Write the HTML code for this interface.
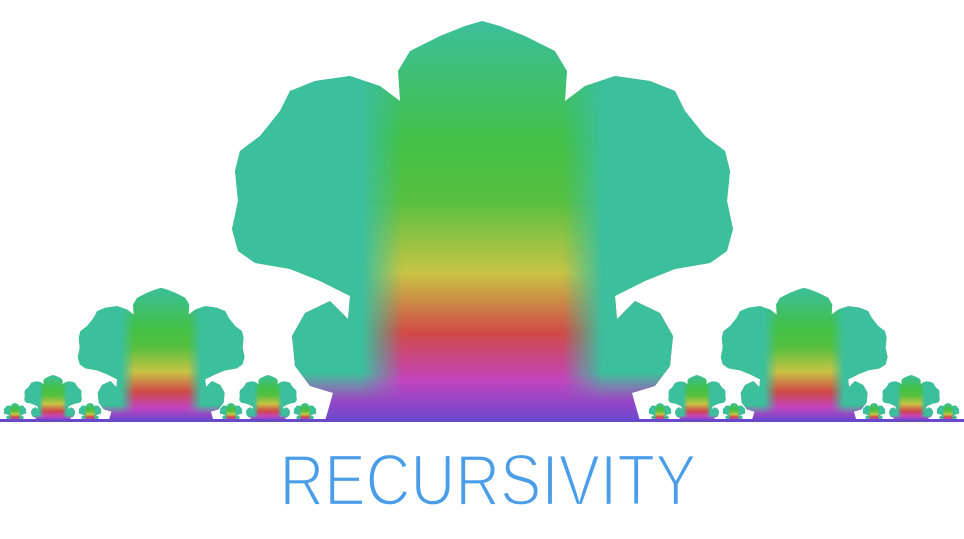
<!DOCTYPE html>
<html><head><meta charset="utf-8"><style>
html,body{margin:0;padding:0;background:#fff;}
svg{display:block;}
</style></head><body>
<svg width="964" height="539" viewBox="0 0 964 539">
<defs>
<linearGradient id="vg" x1="0" y1="0" x2="0" y2="1">
<stop offset="0" stop-color="#3cbf9c"/>
<stop offset="0.3" stop-color="#42c046"/>
<stop offset="0.45" stop-color="#58c040"/>
<stop offset="0.63" stop-color="#c8c444"/>
<stop offset="0.78" stop-color="#d04a48"/>
<stop offset="0.9" stop-color="#c244c0"/>
<stop offset="1" stop-color="#6a48cc"/>
</linearGradient>
<linearGradient id="hg" x1="0" y1="0" x2="1" y2="0">
<stop offset="0" stop-color="#3cbf9c" stop-opacity="1"/>
<stop offset="0.26" stop-color="#3cbf9c" stop-opacity="1"/>
<stop offset="0.34" stop-color="#3cbf9c" stop-opacity="0"/>
<stop offset="0.66" stop-color="#3cbf9c" stop-opacity="0"/>
<stop offset="0.74" stop-color="#3cbf9c" stop-opacity="1"/>
<stop offset="1" stop-color="#3cbf9c" stop-opacity="1"/>
</linearGradient>
<linearGradient id="fadeMask" x1="0" y1="0" x2="0" y2="1">
<stop offset="0" stop-color="#fff"/>
<stop offset="0.88" stop-color="#fff"/>
<stop offset="0.95" stop-color="#000"/>
<stop offset="1" stop-color="#000"/>
</linearGradient>
<mask id="m" maskContentUnits="objectBoundingBox">
<rect x="0" y="0" width="1" height="1" fill="url(#fadeMask)"/>
</mask>
<g id="tree">
<path fill="url(#vg)" d="M-157,0 L-149,-28 L-172,-35 L-187,-55 L-190,-85 L-177,-108 L-152,-120 L-134,-102 L-132,-125 L-162,-140 L-192,-152 L-227,-158 L-244,-170 L-250,-192 L-244,-220 L-247,-250 L-242,-270 L-222,-285 L-202,-310 L-192,-330 L-167,-340 L-132,-345 L-102,-335 L-82,-320 L-84,-350 L-72,-370 L-42,-385 L-17,-395 L0,-400 L18,-395 L43,-385 L73,-370 L85,-350 L83,-320 L103,-335 L133,-345 L168,-340 L193,-330 L203,-310 L223,-285 L243,-270 L248,-250 L245,-220 L251,-192 L245,-170 L228,-158 L193,-152 L163,-140 L133,-125 L135,-102 L153,-120 L178,-108 L191,-85 L188,-55 L173,-35 L150,-28 L158,0 Z"/>
<path fill="url(#hg)" mask="url(#m)" d="M-157,0 L-149,-28 L-172,-35 L-187,-55 L-190,-85 L-177,-108 L-152,-120 L-134,-102 L-132,-125 L-162,-140 L-192,-152 L-227,-158 L-244,-170 L-250,-192 L-244,-220 L-247,-250 L-242,-270 L-222,-285 L-202,-310 L-192,-330 L-167,-340 L-132,-345 L-102,-335 L-82,-320 L-84,-350 L-72,-370 L-42,-385 L-17,-395 L0,-400 L18,-395 L43,-385 L73,-370 L85,-350 L83,-320 L103,-335 L133,-345 L168,-340 L193,-330 L203,-310 L223,-285 L243,-270 L248,-250 L245,-220 L251,-192 L245,-170 L228,-158 L193,-152 L163,-140 L133,-125 L135,-102 L153,-120 L178,-108 L191,-85 L188,-55 L173,-35 L150,-28 L158,0 Z"/>
</g>
</defs>
<g>
<use href="#tree" transform="translate(15,421) scale(0.045)"/>
<use href="#tree" transform="translate(90,421) scale(0.045)"/>
<use href="#tree" transform="translate(231,421) scale(0.045)"/>
<use href="#tree" transform="translate(305,421) scale(0.045)"/>
<use href="#tree" transform="translate(660,421) scale(0.045)"/>
<use href="#tree" transform="translate(734,421) scale(0.045)"/>
<use href="#tree" transform="translate(874,421) scale(0.045)"/>
<use href="#tree" transform="translate(948,421) scale(0.045)"/>
</g>
<g>
<use href="#tree" transform="translate(53,421) scale(0.115)"/>
<use href="#tree" transform="translate(268,421) scale(0.115)"/>
<use href="#tree" transform="translate(697,421) scale(0.115)"/>
<use href="#tree" transform="translate(911,421) scale(0.115)"/>
</g>
<g>
<use href="#tree" transform="translate(161,421) scale(0.333)"/>
<use href="#tree" transform="translate(804,421) scale(0.333)"/>
</g>
<g>
<use href="#tree" transform="translate(482,421) scale(1)"/>
</g>
<rect x="0" y="419" width="964" height="3" fill="#6a48cc"/>
<text x="488" y="505" text-anchor="middle" font-family="Liberation Sans, sans-serif" font-size="72" fill="#4a9de8" stroke="#ffffff" stroke-width="2.2" textLength="417" lengthAdjust="spacingAndGlyphs">RECURSIVITY</text>
</svg>
</body></html>
